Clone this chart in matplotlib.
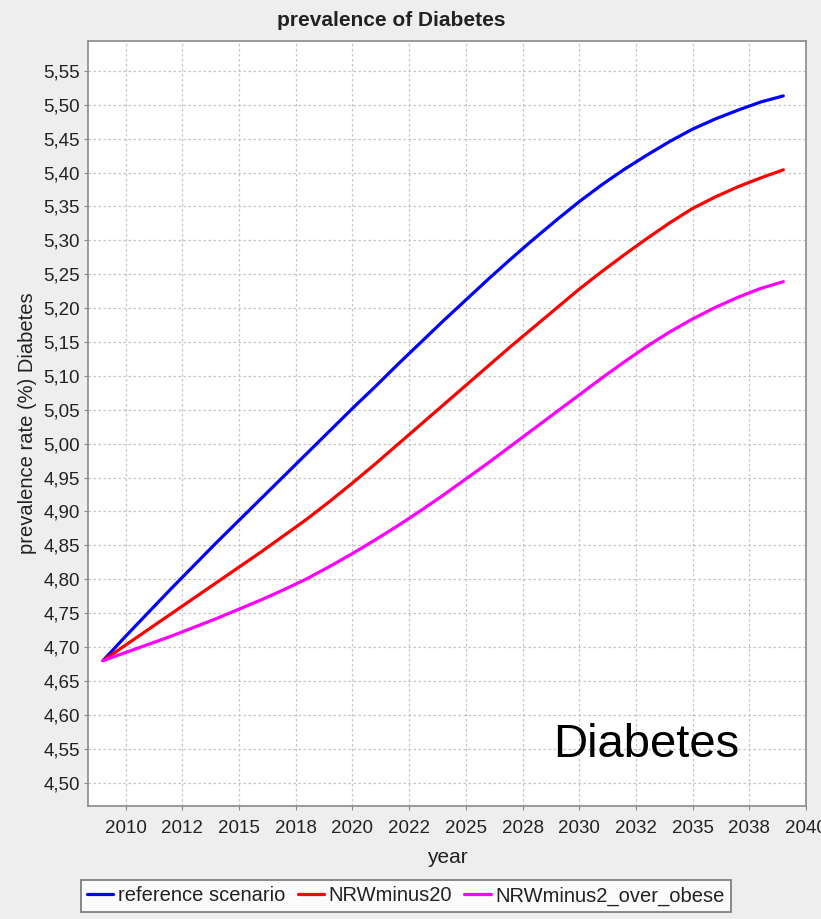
import matplotlib.pyplot as plt
import numpy as np
from matplotlib.ticker import FixedLocator, FuncFormatter

plt.rcParams['font.family'] = ['Liberation Sans', 'DejaVu Sans']

# data
years = list(range(2009, 2040))
reference_scenario = [
    4.680, 4.716, 4.751, 4.786, 4.820, 4.854, 4.887, 4.920, 4.953, 4.986,
    5.019, 5.052, 5.084, 5.117, 5.149, 5.181, 5.212, 5.243, 5.273, 5.302,
    5.330, 5.357, 5.382, 5.405, 5.426, 5.446, 5.464, 5.479, 5.492, 5.504,
    5.513]
nrw_minus20 = [
    4.680, 4.703, 4.726, 4.749, 4.772, 4.795, 4.818, 4.841, 4.865, 4.889,
    4.915, 4.942, 4.970, 4.999, 5.028, 5.057, 5.086, 5.115, 5.144, 5.172,
    5.200, 5.228, 5.254, 5.279, 5.303, 5.326, 5.347, 5.364, 5.379, 5.392,
    5.404]
nrw_minus2_over_obese = [
    4.680, 4.692, 4.704, 4.716, 4.729, 4.742, 4.756, 4.770, 4.785, 4.801,
    4.819, 4.838, 4.858, 4.879, 4.901, 4.924, 4.948, 4.972, 4.997, 5.022,
    5.047, 5.072, 5.097, 5.121, 5.144, 5.165, 5.184, 5.201, 5.216, 5.229,
    5.239]

series_names = ['reference scenario', 'NRWminus20', 'NRWminus2_over_obese']
series_colors = ['#0000ff', '#ff0000', '#ff00ff']

x_ticks = np.arange(2010, 2040.1, 2.5)
y_ticks = np.arange(4.50, 5.551, 0.05)

W, H = 821, 919
fig = plt.figure(figsize=(W / 100, H / 100), dpi=100, facecolor='#eeeeee')
ax = fig.add_axes([88 / W, (H - 806) / H, (806 - 88) / W, (806 - 41) / H])
ax.set_facecolor('white')

for vals, name, col in zip([reference_scenario, nrw_minus20, nrw_minus2_over_obese],
                           series_names, series_colors):
    ax.plot(years, vals, color=col, lw=2.3, label=name, solid_capstyle='round')

ax.set_xlim(2008.34, 2040)
ax.set_ylim(4.4656, 5.594)
ax.xaxis.set_major_locator(FixedLocator(x_ticks))
ax.yaxis.set_major_locator(FixedLocator(y_ticks))
ax.xaxis.set_major_formatter(FuncFormatter(lambda v, p: str(int(round(v)))))
ax.yaxis.set_major_formatter(FuncFormatter(lambda v, p: f'{v:.2f}'.replace('.', ',')))

ax.grid(True, color='#c4c4c4', linestyle=(0, (2, 2)), lw=0.9)
ax.set_axisbelow(True)
for s in ax.spines.values():
    s.set_color('#8a8a8a')
    s.set_linewidth(1.2)
ax.tick_params(direction='out', length=3, width=0.8, color='#8a8a8a',
               labelsize=13.5, labelcolor='#222222')
ax.tick_params(axis='x', pad=7)
ax.tick_params(axis='y', pad=3)

ax.set_xlabel('year', fontsize=15, color='#222222', labelpad=8)
ax.set_ylabel('prevalence rate (%) Diabetes', fontsize=14.5, color='#222222', labelpad=4)
fig.text(391 / W, 1 - 20 / H, 'prevalence of Diabetes', ha='center', va='center',
         fontsize=15, fontweight='bold', color='#222222')

ax.text(0.648, 0.064, 'Diabetes', transform=ax.transAxes, fontsize=34,
        va='baseline', ha='left', color='black')

leg = fig.legend(loc='center', bbox_to_anchor=(406 / W, 1 - 896 / H), ncol=3,
                 fontsize=14.5, frameon=True, fancybox=False, handlelength=1.3,
                 handletextpad=0.25, columnspacing=0.6, borderpad=0.3,
                 borderaxespad=0)
leg.get_frame().set_edgecolor('#555555')
leg.get_frame().set_linewidth(1.2)
for t in leg.get_texts():
    t.set_color('#222222')

fig.savefig('out.png', dpi=100, facecolor=fig.get_facecolor())
